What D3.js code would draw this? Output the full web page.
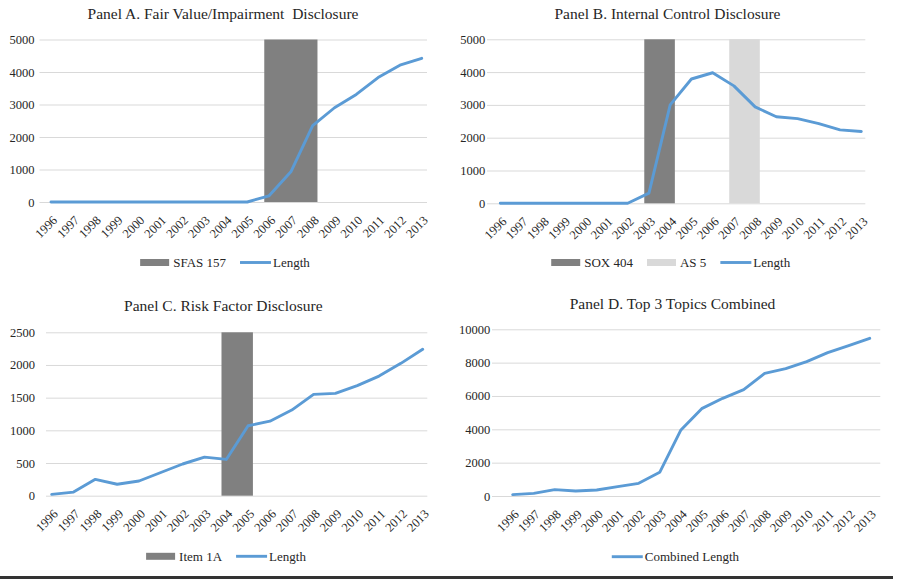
<!DOCTYPE html>
<html>
<head>
<meta charset="utf-8">
<script src="https://cdn.jsdelivr.net/npm/d3@7/dist/d3.min.js"></script>
<style>
  html, body { margin: 0; padding: 0; background: #fff; }
  svg { display: block; }
</style>
</head>
<body>
<div id="chart"></div>
<script>
// ---- data ----
var years = [1996, 1997, 1998, 1999, 2000, 2001, 2002, 2003, 2004, 2005, 2006, 2007, 2008, 2009, 2010, 2011, 2012, 2013];

var fairValueLength = [0, 0, 0, 0, 0, 0, 0, 0, 0, 0, 190, 930, 2350, 2900, 3310, 3830, 4210, 4420];
var internalControlLength = [0, 0, 0, 0, 0, 0, 0, 310, 3000, 3790, 3980, 3580, 2940, 2640, 2580, 2430, 2240, 2190];
var riskFactorLength = [20, 55, 250, 175, 225, 355, 485, 590, 555, 1070, 1140, 1310, 1550, 1565, 1685, 1830, 2025, 2240];
var combinedLength = [80, 160, 380, 300, 360, 560, 760, 1420, 3940, 5240, 5860, 6380, 7360, 7640, 8060, 8600, 9020, 9460];

var ticksA = [0, 1000, 2000, 3000, 4000, 5000];
var ticksB = [0, 1000, 2000, 3000, 4000, 5000];
var ticksC = [0, 500, 1000, 1500, 2000, 2500];
var ticksD = [0, 2000, 4000, 6000, 8000, 10000];

// regulation periods (first year, last year)
var sfas157 = [2006, 2008];
var sox404 = [2003, 2004];
var as5 = [2007, 2008];
var item1A = [2004, 2005];

// ---- layout ----
var W = 897, H = 579;
var BLUE = '#5b9bd5', DARK = '#808080', LIGHT = '#d9d9d9', GRID = '#d9d9d9';
var SPAN_PAD = 0.22;
var FONT = "'Liberation Serif'";

var panels = [
  { title: 'Panel A. Fair Value/Impairment  Disclosure', tx: 223, ty: 18.5,
    values: fairValueLength, ticks: ticksA, lineName: 'Length',
    shades: [{ span: sfas157, fill: DARK, name: 'SFAS 157' }],
    grid: [39.5, 427], pts: [51, 421.7], yr: [202, 39.5], labelRight: 34.5, legend: [225, 262.5] },
  { title: 'Panel B. Internal Control Disclosure', tx: 667.5, ty: 18.5,
    values: internalControlLength, ticks: ticksB, lineName: 'Length',
    shades: [{ span: sox404, fill: DARK, name: 'SOX 404' }, { span: as5, fill: LIGHT, name: 'AS 5' }],
    grid: [487, 865.3], pts: [500.3, 861.3], yr: [203.3, 39.3], labelRight: 485.3, legend: [670.7, 262.5] },
  { title: 'Panel C. Risk Factor Disclosure', tx: 223.3, ty: 310.5,
    values: riskFactorLength, ticks: ticksC, lineName: 'Length',
    shades: [{ span: item1A, fill: DARK, name: 'Item 1A' }],
    grid: [46, 427.3], pts: [51.7, 422.7], yr: [495.7, 332.3], labelRight: 35, legend: [226, 556.3] },
  { title: 'Panel D. Top 3 Topics Combined', tx: 672.5, ty: 309,
    values: combinedLength, ticks: ticksD, lineName: 'Combined Length',
    shades: [],
    grid: [492, 880.3], pts: [512.7, 869.7], yr: [496, 329.3], labelRight: 490.3, legend: [675.4, 556.7] }
];

var svg = d3.select('#chart').append('svg')
  .attr('width', W).attr('height', H)
  .attr('viewBox', '0 0 ' + W + ' ' + H);

svg.append('rect').attr('width', W).attr('height', H).attr('fill', '#fff');

panels.forEach(function (p) {
  var g = svg.append('g');
  var x = d3.scaleLinear().domain([years[0], years[years.length - 1]]).range(p.pts);
  var y = d3.scaleLinear().domain([0, d3.max(p.ticks)]).range(p.yr);

  // title
  g.append('text')
    .attr('x', p.tx).attr('y', p.ty)
    .attr('text-anchor', 'middle')
    .style('white-space', 'pre')
    .style('font-family', FONT)
    .attr('font-size', 15.5).attr('fill', '#262626')
    .text(p.title);

  // y axis: labels + gridlines
  var yAxis = d3.axisLeft(y)
    .tickValues(p.ticks)
    .tickFormat(d3.format('d'))
    .tickSize(-(p.grid[1] - p.grid[0]))
    .tickPadding(p.grid[0] - p.labelRight);
  var ya = g.append('g').attr('transform', 'translate(' + p.grid[0] + ',0)').call(yAxis);
  ya.attr('font-family', null);
  ya.select('.domain').remove();
  ya.selectAll('line').attr('stroke', GRID).attr('stroke-width', 1);
  ya.selectAll('text').attr('font-size', 12.5).attr('fill', '#262626').style('font-family', FONT);

  // shaded regulation periods
  g.append('g').selectAll('rect').data(p.shades).join('rect')
    .attr('x', function (d) { return x(d.span[0] - SPAN_PAD); })
    .attr('width', function (d) { return x(d.span[1] + SPAN_PAD) - x(d.span[0] - SPAN_PAD); })
    .attr('y', y(d3.max(p.ticks)))
    .attr('height', y(0) - y(d3.max(p.ticks)))
    .attr('fill', function (d) { return d.fill; });

  // x axis labels (rotated)
  var xAxis = d3.axisBottom(x).tickValues(years).tickFormat(d3.format('d')).tickSize(0).tickPadding(0);
  var xa = g.append('g').attr('transform', 'translate(0,' + y(0) + ')').call(xAxis);
  xa.attr('font-family', null);
  xa.select('.domain').remove();
  xa.selectAll('text')
    .attr('font-size', 12.5).attr('fill', '#262626')
    .style('font-family', FONT)
    .attr('text-anchor', 'end')
    .attr('dy', 0)
    .attr('y', 0)
    .attr('transform', 'translate(6.5,19) rotate(-45)');

  // length line
  var line = d3.line()
    .x(function (d, i) { return x(years[i]); })
    .y(function (d) { return y(d); });
  g.append('path').datum(p.values)
    .attr('d', line)
    .attr('fill', 'none')
    .attr('stroke', BLUE)
    .attr('stroke-width', 2.9)
    .attr('stroke-linejoin', 'round')
    .attr('stroke-linecap', 'round');

  // legend
  var items = p.shades.map(function (s) { return { type: 'bar', fill: s.fill, name: s.name }; });
  items.push({ type: 'line', fill: BLUE, name: p.lineName });
  var lg = g.append('g');
  var cx = 0;
  items.forEach(function (it) {
    var ig = lg.append('g').attr('transform', 'translate(' + cx + ',0)');
    if (it.type === 'bar') {
      ig.append('rect').attr('x', 0).attr('y', -3.5).attr('width', 29).attr('height', 7).attr('fill', it.fill);
    } else {
      ig.append('line').attr('x1', 0).attr('x2', 31).attr('y1', 0).attr('y2', 0)
        .attr('stroke', it.fill).attr('stroke-width', 2.9);
    }
    var t = ig.append('text').attr('x', 33).attr('y', 4.5)
      .style('font-family', FONT)
      .attr('font-size', 13).attr('fill', '#262626').text(it.name);
    cx += 33 + t.node().getComputedTextLength() + 14;
  });
  var total = cx - 14;
  lg.attr('transform', 'translate(' + (p.legend[0] - total / 2) + ',' + p.legend[1] + ')');
});

// rule under the figure
svg.append('line')
  .attr('x1', 0).attr('x2', 893).attr('y1', 577.5).attr('y2', 577.5)
  .attr('stroke', '#333').attr('stroke-width', 3);
</script>
</body>
</html>
